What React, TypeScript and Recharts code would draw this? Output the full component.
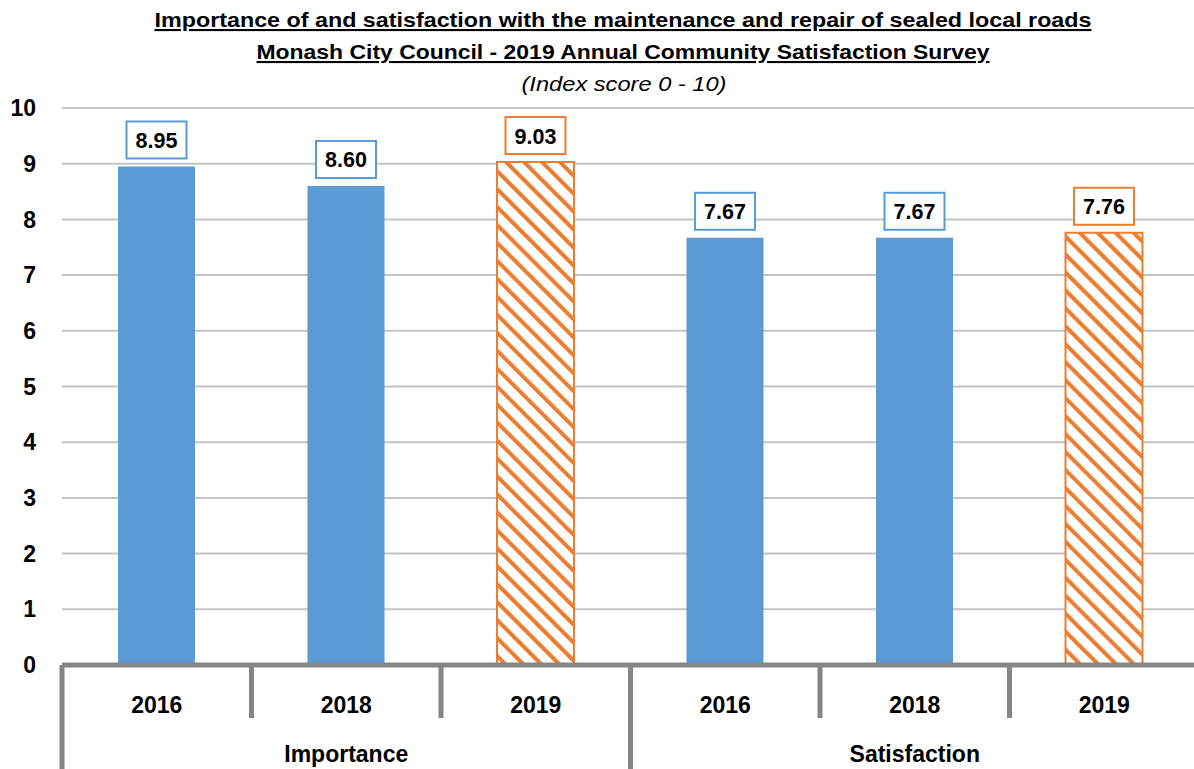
import React from "react";
import { BarChart, Bar, XAxis, YAxis, CartesianGrid, Cell, LabelList } from "recharts";

const CATEGORIES = ["2016", "2018", "2019", "2016", "2018", "2019"];
const GROUPS = ["Importance", "Importance", "Importance", "Satisfaction", "Satisfaction", "Satisfaction"];
const VALUES = [8.95, 8.6, 9.03, 7.67, 7.67, 7.76];
const Y_TICKS = [0, 1, 2, 3, 4, 5, 6, 7, 8, 9, 10];
const TITLE = "Importance of and satisfaction  with the maintenance and repair of sealed local roads";
const SUBTITLE = "Monash  City Council  - 2019 Annual  Community Satisfaction  Survey";
const NOTE = "(Index score  0 - 10)";

const BLUE = "#5B9BD5";
const ORANGE = "#ED7D31";
const AXIS_GREY = "#858585";
const FONT = "'Liberation Sans', Arial, sans-serif";

const CHART_W = 1200;
const CHART_H = 769;
const Y_AXIS_W = 62;
const MARGIN = { top: 108, right: 1, left: 0, bottom: 0 };
const HALF_BAND = (CHART_W - Y_AXIS_W - MARGIN.right - MARGIN.left) / CATEGORIES.length / 2;

const data = CATEGORIES.map((year, i) => ({
  key: i,
  year,
  group: GROUPS[i],
  value: VALUES[i],
  current: year === "2019",
}));

// two level category axis: year row + group row with separators
function CategoryTick(props: any) {
  const { x, y, payload } = props;
  const i = payload.value as number;
  const groupStart = i === 0 || GROUPS[i] !== GROUPS[i - 1];
  const groupMiddle = i % 3 === 1;
  return (
    <g>
      <line
        x1={x - HALF_BAND}
        x2={x - HALF_BAND}
        y1={y}
        y2={groupStart ? y + 110 : y + 53}
        stroke={AXIS_GREY}
        strokeWidth={5}
      />
      <text x={x} y={y + 48} textAnchor="middle" fontFamily={FONT} fontWeight="bold" fontSize={23} fill="#000">
        {CATEGORIES[i]}
      </text>
      {groupMiddle && (
        <text x={x} y={y + 97} textAnchor="middle" fontFamily={FONT} fontWeight="bold" fontSize={23} fill="#000">
          {GROUPS[i]}
        </text>
      )}
    </g>
  );
}

function ValueBox(props: any) {
  const { x, y, width, value, index } = props;
  const cx = x + width / 2;
  const boxW = 60;
  const boxH = 37;
  const top = y - 8 - boxH;
  const colour = CATEGORIES[index] === "2019" ? ORANGE : BLUE;
  return (
    <g>
      <rect x={cx - boxW / 2} y={top} width={boxW} height={boxH} fill="#fff" stroke={colour} strokeWidth={2} />
      <text x={cx} y={top + boxH / 2 + 8} textAnchor="middle" fontFamily={FONT} fontWeight="bold" fontSize={21.5} fill="#000">
        {Number(value).toFixed(2)}
      </text>
    </g>
  );
}

export default function App() {
  return (
    <div style={{ position: "absolute", left: 0, top: 0, width: 1194, height: 769, overflow: "hidden", background: "#fff" }}>
      <svg width={1194} height={100} style={{ position: "absolute", left: 0, top: 0 }}>
        <defs>
          <pattern id="hatch" patternUnits="userSpaceOnUse" width={12.7} height={12.7} patternTransform="rotate(-45)">
            <rect x={0} y={0} width={12.7} height={12.7} fill="#fff" />
            <rect x={0} y={0} width={4} height={12.7} fill={ORANGE} />
          </pattern>
        </defs>
        <text
          x={623}
          y={27}
          textAnchor="middle"
          fontFamily="'Liberation Sans Narrow', 'Liberation Sans', Arial, sans-serif"
          fontWeight="bold"
          fontSize={21}
          textLength={937}
          lengthAdjust="spacingAndGlyphs"
          textDecoration="underline"
          fill="#000"
        >
          {TITLE}
        </text>
        <text
          x={623}
          y={59}
          textAnchor="middle"
          fontFamily="'Liberation Sans Narrow', 'Liberation Sans', Arial, sans-serif"
          fontWeight="bold"
          fontSize={21}
          textLength={733}
          lengthAdjust="spacingAndGlyphs"
          textDecoration="underline"
          fill="#000"
        >
          {SUBTITLE}
        </text>
        <text
          x={624}
          y={91}
          textAnchor="middle"
          fontFamily="'Liberation Sans Narrow', 'Liberation Sans', Arial, sans-serif"
          fontStyle="italic"
          fontSize={21}
          textLength={205}
          lengthAdjust="spacingAndGlyphs"
          fill="#000"
        >
          {NOTE}
        </text>
      </svg>
      <div style={{ position: "absolute", left: 0, top: 0 }}>
        <BarChart width={CHART_W} height={CHART_H} data={data} margin={MARGIN} barSize={77}>
          <CartesianGrid vertical={false} stroke="#C4C4C4" strokeWidth={2} />
          <YAxis
            domain={[0, 10]}
            ticks={Y_TICKS}
            width={Y_AXIS_W}
            axisLine={false}
            tickLine={false}
            tickSize={0}
            tickMargin={26}
            interval={0}
            tick={{ fontFamily: FONT, fontWeight: "bold", fontSize: 23, fill: "#000" }}
          />
          <XAxis
            dataKey="key"
            height={CHART_H - 665}
            interval={0}
            tickLine={false}
            tickSize={0}
            tickMargin={0}
            axisLine={{ stroke: AXIS_GREY, strokeWidth: 5 }}
            tick={<CategoryTick />}
          />
          <Bar dataKey="value" isAnimationActive={false}>
            {data.map((d) => (
              <Cell
                key={d.key}
                fill={d.current ? "url(#hatch)" : BLUE}
                stroke={d.current ? ORANGE : "none"}
                strokeWidth={d.current ? 2 : 0}
              />
            ))}
            <LabelList dataKey="value" content={<ValueBox />} />
          </Bar>
        </BarChart>
      </div>
    </div>
  );
}
